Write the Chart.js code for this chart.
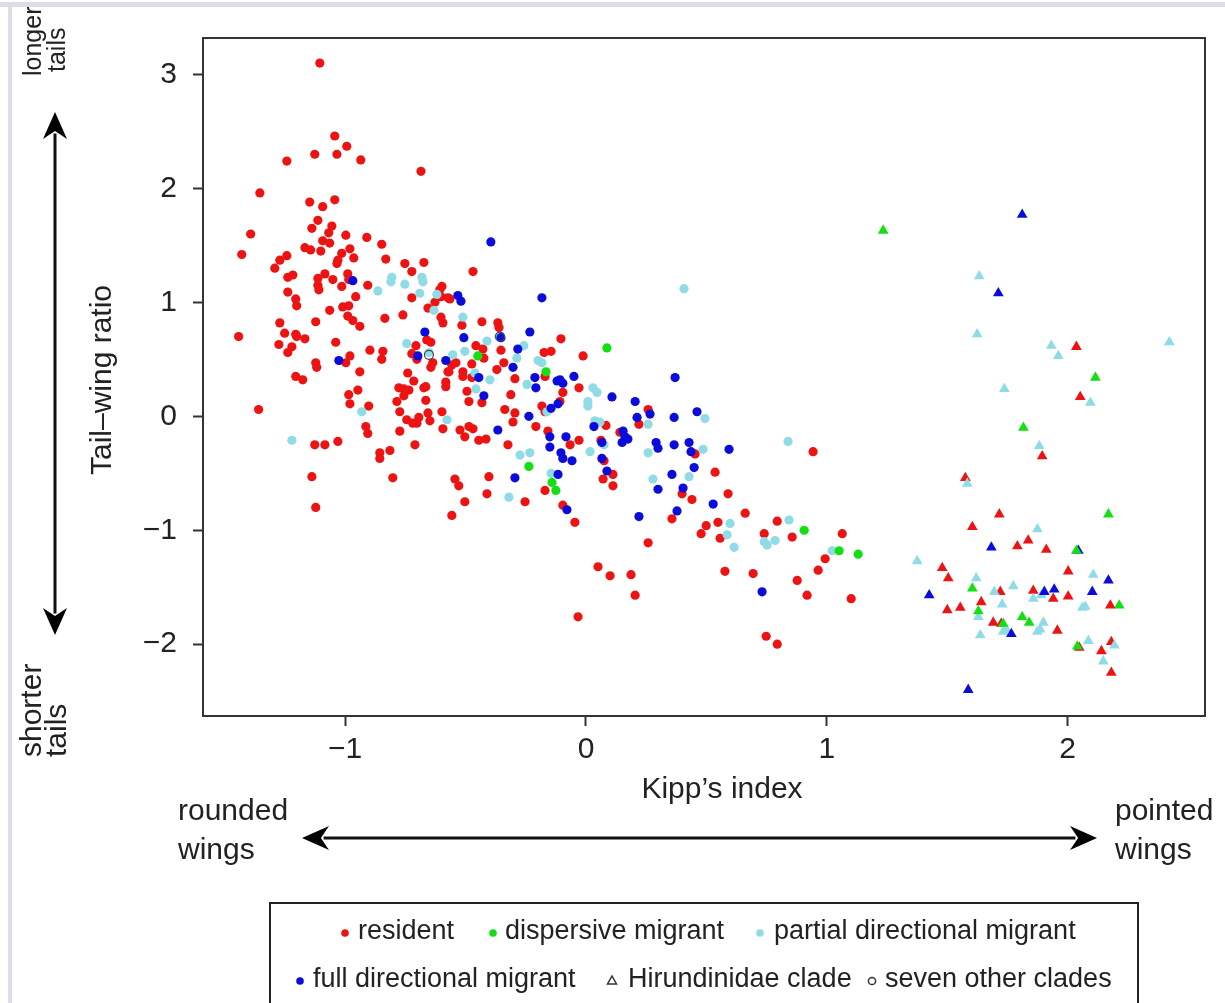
<!DOCTYPE html>
<html>
<head>
<meta charset="utf-8">
<script src="https://cdn.jsdelivr.net/npm/chart.js@4"></script>
<style>
  body { margin: 0; background: #fff; }
  #wrap { width: 1225px; height: 1003px; }
</style>
</head>
<body>
<div id="wrap"><canvas id="kippChart" width="1225" height="1003"></canvas></div>
<script>
// tick values
const xTickVals = [-1, 0, 1, 2];
const yTickVals = [-2, -1, 0, 1, 2, 3];

// [Kipp's index, tail-wing ratio] per group
const residentPts = [
  [-1.105,3.10],[-1.043,2.46],[-0.993,2.37],[-1.126,2.30],[-1.034,2.30],[-0.935,2.25],[-1.242,2.24],[-0.685,2.15],
  [-1.354,1.96],[-1.147,1.88],[-1.043,1.90],[-1.093,1.84],[-1.113,1.72],[-1.055,1.67],[-1.138,1.65],[-1.068,1.61],
  [-1.392,1.60],[-0.997,1.59],[-0.910,1.57],[-1.093,1.54],[-1.064,1.52],[-0.848,1.51],[-1.167,1.48],[-1.143,1.46],
  [-1.101,1.45],[-0.980,1.47],[-1.429,1.42],[-1.014,1.43],[-0.964,1.39],[-1.242,1.41],[-1.271,1.37],[-1.030,1.37],
  [-1.034,1.34],[-0.831,1.38],[-0.752,1.34],[-0.673,1.35],[-1.292,1.30],[-0.723,1.27],[-1.238,1.22],[-1.217,1.24],
  [-1.113,1.21],[-1.084,1.25],[-1.051,1.20],[-0.989,1.25],[-0.985,1.20],[-1.014,1.14],[-0.906,1.15],[-1.113,1.15],
  [-1.109,1.11],[-1.238,1.09],[-1.205,1.03],[-1.201,0.97],[-1.064,0.93],[-1.010,0.96],[-0.985,0.97],[-0.956,1.05],
  [-0.723,1.04],[-0.627,1.00],[-0.602,1.05],[-0.573,1.04],[-0.656,0.95],[-0.760,0.89],[-0.835,0.86],[-0.989,0.88],
  [-0.968,0.84],[-0.939,0.79],[-1.122,0.83],[-1.271,0.82],[-0.602,0.87],[-0.594,0.82],[-1.251,0.73],[-1.205,0.72],
  [-1.201,0.70],[-1.167,0.68],[-1.442,0.70],[-1.275,0.63],[-1.221,0.61],[-1.238,0.56],[-1.039,0.65],[-0.661,0.67],
  [-0.644,0.65],[-0.706,0.62],[-0.897,0.58],[-0.843,0.57],[-0.848,0.50],[-0.723,0.55],[-0.702,0.50],[-0.997,0.47],
  [-0.980,0.53],[-0.636,0.47],[-0.644,0.43],[-0.573,0.39],[-1.122,0.47],[-1.118,0.43],[-0.939,0.39],[-0.740,0.38],
  [-0.715,0.31],[-1.205,0.35],[-1.176,0.32],[-0.582,0.30],[-0.582,0.26],[-0.777,0.25],[-0.756,0.24],[-0.735,0.23],
  [-0.673,0.25],[-0.665,0.26],[-0.947,0.23],[-0.985,0.19],[-0.756,0.18],[-0.785,0.13],[-0.665,0.14],[-0.980,0.11],
  [-0.902,0.09],[-0.773,0.04],[-0.656,0.03],[-0.598,0.04],[-1.359,0.06],[-0.744,-0.03],[-0.694,-0.01],[-0.702,-0.06],
  [-0.719,-0.06],[-0.648,-0.04],[-0.594,-0.11],[-0.914,-0.09],[-0.906,-0.15],[-0.773,-0.13],[-1.126,-0.25],[-1.084,-0.25],
  [-1.030,-0.22],[-0.710,-0.25],[-0.814,-0.30],[-0.856,-0.32],[-0.856,-0.37],[-1.138,-0.53],[-0.802,-0.54],[-1.122,-0.80],
  [-0.469,1.27],[-0.598,1.14],[-0.607,1.11],[-0.565,1.03],[-0.515,0.80],[-0.432,0.83],[-0.366,0.82],[-0.361,0.78],
  [-0.104,0.68],[-0.457,0.62],[-0.428,0.59],[-0.353,0.58],[-0.174,0.56],[-0.145,0.57],[-0.012,0.53],[-0.424,0.51],
  [-0.540,0.47],[-0.557,0.45],[-0.474,0.46],[-0.341,0.47],[-0.370,0.41],[-0.569,0.39],[-0.511,0.39],[-0.511,0.35],
  [-0.474,0.34],[-0.295,0.33],[-0.170,0.35],[-0.029,0.25],[-0.494,0.22],[-0.096,0.21],[-0.312,0.19],[-0.108,0.13],
  [-0.486,0.13],[-0.432,0.12],[-0.337,0.06],[-0.295,0.03],[-0.183,0.09],[-0.170,0.04],[-0.303,-0.05],[-0.208,-0.09],
  [0.083,-0.08],[0.258,0.06],[0.220,-0.07],[-0.523,-0.12],[-0.486,-0.09],[-0.469,-0.11],[-0.158,-0.13],[-0.503,-0.18],
  [-0.445,-0.21],[-0.415,-0.20],[-0.029,-0.21],[-0.066,-0.25],[0.062,-0.21],[0.141,-0.14],[-0.324,-0.25],[0.075,-0.39],
  [-0.403,-0.53],[0.071,-0.55],[0.112,-0.51],[-0.544,-0.55],[-0.528,-0.61],[-0.170,-0.65],[-0.411,-0.68],[-0.503,-0.75],
  [-0.557,-0.87],[-0.253,-0.75],[-0.096,-0.78],[-0.046,-0.93],[0.112,-0.61],[0.357,-0.90],[0.258,-1.11],[0.050,-1.32],
  [0.100,-1.40],[0.187,-1.39],[0.204,-1.57],[-0.033,-1.76],[0.453,-0.33],[0.943,-0.31],[0.536,-0.49],[0.399,-0.68],
  [0.590,-0.68],[0.440,-0.73],[0.661,-0.85],[0.499,-0.96],[0.478,-1.03],[0.548,-0.93],[0.557,-1.07],[0.794,-0.92],
  [0.740,-1.03],[0.856,-1.06],[1.064,-1.03],[0.993,-1.25],[0.964,-1.35],[0.877,-1.44],[0.918,-1.57],[1.101,-1.60],
  [0.577,-1.36],[0.694,-1.38],[0.748,-1.93],[0.794,-2.00]
];
const dispersivePts = [
  [0.087,0.60],[-0.449,0.53],[-0.166,0.39],[-0.237,-0.44],[-0.141,-0.58],[-0.125,-0.65],[0.906,-1.00],[1.051,-1.18],[1.130,-1.21]
];
const partialPts = [
  [-0.806,1.22],[-0.681,1.22],[-0.864,1.10],[-0.810,1.18],[-0.752,1.16],[-0.677,1.18],[-0.690,1.08],[-0.619,1.07],
  [-0.631,0.93],[-0.744,0.64],[-0.652,0.56],[-0.577,-0.03],[-0.931,0.04],[-1.221,-0.21],[-0.511,0.87],[-0.361,0.70],
  [-0.411,0.66],[-0.258,0.62],[-0.503,0.57],[-0.553,0.54],[-0.287,0.51],[-0.199,0.49],[-0.183,0.47],[-0.461,0.38],
  [-0.399,0.32],[-0.245,0.28],[-0.457,0.24],[0.029,0.25],[0.046,0.21],[0.008,0.13],[0.008,0.09],[-0.162,0.04],
  [0.037,-0.04],[0.058,-0.05],[0.258,-0.07],[0.075,-0.25],[-0.274,-0.34],[-0.233,-0.32],[0.017,-0.31],[0.258,-0.32],
  [-0.145,-0.50],[0.278,-0.55],[-0.320,-0.71],[0.407,1.12],[0.494,-0.02],[0.486,-0.29],[0.839,-0.22],[0.428,-0.53],
  [0.598,-0.94],[0.586,-1.04],[0.615,-1.15],[0.843,-0.91],[0.740,-1.10],[0.752,-1.13],[0.785,-1.09],[1.022,-1.18]
];
const fullPts = [
  [-0.968,1.19],[-1.026,0.49],[-0.669,0.74],[-0.698,0.53],[-0.582,0.49],[-0.532,1.06],[-0.519,1.01],[-0.183,1.04],
  [-0.395,1.53],[-0.353,0.69],[-0.507,0.69],[-0.233,0.74],[-0.283,0.59],[-0.303,0.43],[-0.445,0.34],[-0.212,0.34],
  [-0.208,0.25],[-0.050,0.35],[-0.120,0.31],[-0.108,0.32],[-0.096,0.29],[-0.424,0.18],[0.108,0.17],[-0.116,0.11],
  [0.204,0.13],[0.370,0.34],[-0.145,0.07],[-0.237,0.00],[0.033,-0.09],[0.266,0.02],[0.212,-0.01],[0.366,-0.01],
  [-0.366,-0.12],[-0.150,-0.18],[-0.150,-0.27],[-0.083,-0.18],[0.154,-0.13],[0.162,-0.18],[0.150,-0.23],[0.174,-0.20],
  [0.066,-0.23],[-0.104,-0.32],[-0.096,-0.37],[-0.058,-0.39],[0.066,-0.37],[0.291,-0.23],[0.299,-0.28],[0.366,-0.25],
  [-0.295,-0.54],[-0.116,-0.51],[0.087,-0.48],[0.357,-0.51],[0.299,-0.64],[-0.079,-0.82],[0.220,-0.88],[0.378,-0.83],
  [0.461,0.04],[0.428,-0.23],[0.436,-0.31],[0.594,-0.29],[0.449,-0.45],[0.403,-0.63],[0.528,-0.77],[0.731,-1.54]
];
// Hirundinidae clade (triangles)
const hirResident = [
  [2.036,0.61],[2.052,0.17],[1.894,-0.35],[1.575,-0.54],[1.716,-0.86],[1.604,-0.97],[1.836,-1.09],[1.791,-1.14],
  [1.911,-1.17],[1.479,-1.33],[1.504,-1.42],[2.002,-1.36],[1.720,-1.54],[1.857,-1.53],[1.940,-1.60],[2.002,-1.58],
  [1.500,-1.70],[1.554,-1.68],[1.641,-1.63],[2.177,-1.66],[1.691,-1.81],[1.724,-1.82],[1.957,-1.88],[2.048,-2.03],
  [2.140,-2.06],[2.181,-1.98],[2.181,-2.25]
];
const hirDispersive = [
  [1.234,1.63],[2.115,0.34],[1.816,-0.10],[2.169,-0.86],[2.036,-1.18],[1.604,-1.51],[2.214,-1.66],[1.629,-1.71],
  [1.732,-1.82],[1.811,-1.76],[1.840,-1.81],[2.040,-2.02]
];
const hirPartial = [
  [1.633,1.23],[1.624,0.72],[1.932,0.62],[1.961,0.53],[2.422,0.65],[1.737,0.24],[2.094,0.12],[1.882,-0.26],
  [1.583,-0.59],[1.874,-0.99],[1.375,-1.27],[2.106,-1.39],[1.620,-1.42],[1.695,-1.54],[1.774,-1.49],[1.890,-1.57],
  [1.857,-1.60],[1.728,-1.65],[2.061,-1.68],[2.073,-1.67],[1.629,-1.76],[1.899,-1.81],[1.886,-1.87],[1.874,-1.89],
  [1.745,-1.87],[1.732,-1.89],[1.637,-1.92],[2.086,-1.97],[2.194,-2.01],[2.148,-2.15]
];
const hirFull = [
  [1.811,1.77],[1.712,1.08],[1.683,-1.15],[2.044,-1.18],[2.169,-1.44],[1.425,-1.57],[1.903,-1.54],[1.944,-1.52],
  [2.102,-1.54],[1.766,-1.91],[1.587,-2.40]
];
// seven other clades (open circles)
const otherClades = [[-0.652,0.54],[-0.357,0.70]];

const RED = "#ee1313", GREEN = "#13e013", CYAN = "#8fdbe6", BLUE = "#0b0bdb";
const FONT = "'Liberation Sans', Arial, sans-serif";

const toXY = (arr) => arr.map((p) => ({ x: p[0], y: p[1] }));
const circles = (data, color, order) => ({
  data: toXY(data), pointStyle: "circle", pointRadius: 4.6, backgroundColor: color, borderWidth: 0, order: order,
});
const triangles = (data, color, order) => ({
  data: toXY(data), pointStyle: "triangle", pointRadius: 6.2, backgroundColor: color, borderWidth: 0, order: order,
});

function drawArrow(ctx, x1, y1, x2, y2) {
  const ang = Math.atan2(y2 - y1, x2 - x1);
  const len = 27, half = 12;
  ctx.lineWidth = 3;
  ctx.beginPath();
  ctx.moveTo(x1 + Math.cos(ang) * len * 0.8, y1 + Math.sin(ang) * len * 0.8);
  ctx.lineTo(x2 - Math.cos(ang) * len * 0.8, y2 - Math.sin(ang) * len * 0.8);
  ctx.stroke();
  [[x1, y1, ang], [x2, y2, ang + Math.PI]].forEach(([x, y, a]) => {
    ctx.beginPath();
    ctx.moveTo(x, y);
    ctx.lineTo(x + Math.cos(a) * len - Math.sin(a) * half, y + Math.sin(a) * len + Math.cos(a) * half);
    ctx.lineTo(x + Math.cos(a) * len * 0.7, y + Math.sin(a) * len * 0.7);
    ctx.lineTo(x + Math.cos(a) * len + Math.sin(a) * half, y + Math.sin(a) * len - Math.cos(a) * half);
    ctx.closePath();
    ctx.fill();
  });
}

function rotText(ctx, txt, x, y, align) {
  ctx.save();
  ctx.translate(x, y);
  ctx.rotate(-Math.PI / 2);
  ctx.textAlign = align;
  ctx.textBaseline = "middle";
  ctx.fillText(txt, 0, 0);
  ctx.restore();
}

const annotate = {
  id: "annotate",
  afterDraw(chart) {
    const ctx = chart.ctx;
    const a = chart.chartArea;
    ctx.save();
    // plot box
    ctx.strokeStyle = "#333";
    ctx.lineWidth = 2;
    ctx.strokeRect(a.left, a.top, a.right - a.left, a.bottom - a.top);

    ctx.fillStyle = "#222";
    ctx.strokeStyle = "#111";
    ctx.font = "30px " + FONT;
    // axis titles
    ctx.textAlign = "center";
    ctx.textBaseline = "middle";
    ctx.fillText("Kipp\u2019s index", 722, 790);
    rotText(ctx, "Tail\u2013wing ratio", 103, 380, "center");

    // left side annotations
    rotText(ctx, "shorter", 33, 757, "left");
    rotText(ctx, "tails", 58, 757, "left");
    ctx.font = "25px " + FONT;
    rotText(ctx, "longer", 34, 76, "left");
    rotText(ctx, "tails", 58, 72, "left");
    ctx.font = "30px " + FONT;
    ctx.fillStyle = "#000";
    drawArrow(ctx, 55, 112, 55, 635);

    // bottom annotations
    ctx.fillStyle = "#222";
    ctx.textAlign = "left";
    ctx.fillText("rounded", 178, 812);
    ctx.fillText("wings", 178, 851);
    ctx.fillText("pointed", 1115, 812);
    ctx.fillText("wings", 1115, 851);
    ctx.fillStyle = "#000";
    drawArrow(ctx, 302, 838, 1097, 838);

    // legend
    ctx.strokeStyle = "#222";
    ctx.lineWidth = 2;
    ctx.strokeRect(270, 903, 868, 120);
    ctx.font = "27px " + FONT;
    ctx.fillStyle = "#222";
    const row1 = 932, row2 = 980;
    const items = [
      { sym: "dot", color: RED, sx: 345, tx: 358, y: row1, label: "resident" },
      { sym: "dot", color: GREEN, sx: 493, tx: 505, y: row1, label: "dispersive migrant" },
      { sym: "dot", color: CYAN, sx: 760, tx: 774, y: row1, label: "partial directional migrant" },
      { sym: "dot", color: BLUE, sx: 300, tx: 313, y: row2, label: "full directional migrant" },
      { sym: "tri", color: "#333", sx: 612, tx: 628, y: row2, label: "Hirundinidae clade" },
      { sym: "ring", color: "#333", sx: 872, tx: 885, y: row2, label: "seven other clades" },
    ];
    items.forEach((it) => {
      ctx.beginPath();
      if (it.sym === "dot") {
        ctx.fillStyle = it.color;
        ctx.arc(it.sx, it.y + 1, 3.8, 0, Math.PI * 2);
        ctx.fill();
      } else if (it.sym === "tri") {
        ctx.strokeStyle = it.color;
        ctx.lineWidth = 1.5;
        ctx.moveTo(it.sx, it.y - 4);
        ctx.lineTo(it.sx + 4.5, it.y + 4);
        ctx.lineTo(it.sx - 4.5, it.y + 4);
        ctx.closePath();
        ctx.stroke();
      } else {
        ctx.strokeStyle = it.color;
        ctx.lineWidth = 1.5;
        ctx.arc(it.sx, it.y + 1, 3.6, 0, Math.PI * 2);
        ctx.stroke();
      }
      ctx.fillStyle = "#222";
      ctx.textAlign = "left";
      ctx.textBaseline = "middle";
      ctx.fillText(it.label, it.tx, it.y);
    });

    // light frame of the figure
    ctx.fillStyle = "#dcdde6";
    ctx.fillRect(0, 2, 1225, 5);
    ctx.fillRect(8, 2, 4, 1001);
    ctx.restore();
  },
};

const minusFmt = (v) => String(v).replace("-", "\u2212");

new Chart(document.getElementById("kippChart").getContext("2d"), {
  type: "scatter",
  data: {
    datasets: [
      circles(residentPts, RED, 9),
      circles(partialPts, CYAN, 8),
      circles(fullPts, BLUE, 7),
      circles(dispersivePts, GREEN, 6),
      triangles(hirResident, RED, 5),
      triangles(hirPartial, CYAN, 4),
      triangles(hirFull, BLUE, 3),
      triangles(hirDispersive, GREEN, 2),
      {
        data: toXY(otherClades), pointStyle: "circle", pointRadius: 4.5,
        backgroundColor: "rgba(0,0,0,0)", borderColor: "#444", borderWidth: 1.2, order: 1,
      },
    ],
  },
  options: {
    responsive: false,
    animation: false,
    layout: { padding: { top: 38, right: 20, left: 0, bottom: 0 } },
    plugins: { legend: { display: false }, tooltip: { enabled: false } },
    scales: {
      x: {
        type: "linear",
        min: -1.59,
        max: 2.57,
        afterBuildTicks: (s) => { s.ticks = xTickVals.map((v) => ({ value: v })); },
        afterFit: (s) => { s.height = 287; },
        ticks: { callback: minusFmt, font: { size: 30, family: FONT }, color: "#222", padding: 6, maxRotation: 0 },
        grid: { drawOnChartArea: false, tickLength: 10, color: "#333", tickWidth: 2 },
        border: { display: false },
      },
      y: {
        type: "linear",
        min: -2.63,
        max: 3.32,
        afterBuildTicks: (s) => { s.ticks = yTickVals.map((v) => ({ value: v })); },
        afterFit: (s) => { s.width = 203; },
        ticks: { callback: minusFmt, font: { size: 30, family: FONT }, color: "#222", padding: 16 },
        grid: { drawOnChartArea: false, tickLength: 10, color: "#333", tickWidth: 2 },
        border: { display: false },
      },
    },
  },
  plugins: [annotate],
});
</script>
</body>
</html>
